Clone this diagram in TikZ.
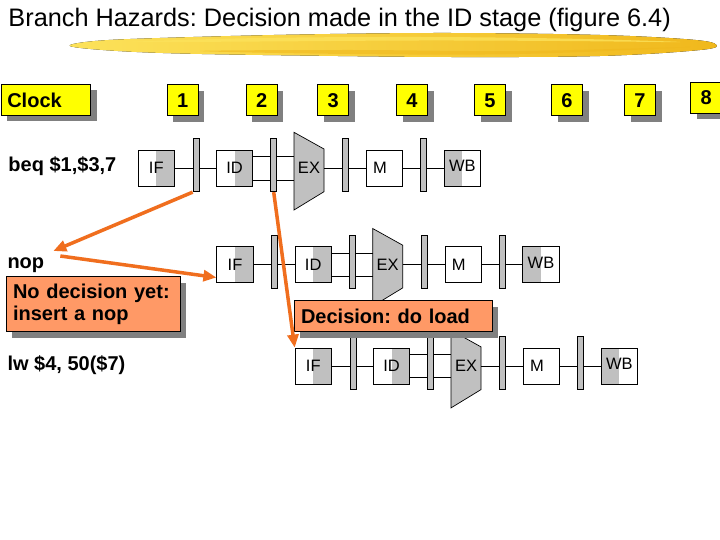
\documentclass[tikz,border=0pt]{standalone}
\usepackage{fontspec}
\setmainfont{Liberation Sans}
\usetikzlibrary{arrows.meta,shadows}
\definecolor{clockyellow}{RGB}{255,255,0}
\definecolor{stagegray}{RGB}{192,192,192}
\definecolor{notefill}{RGB}{255,153,102}
\definecolor{hazardorange}{RGB}{240,110,30}
\definecolor{brushlight}{RGB}{252,226,90}
\definecolor{brushdark}{RGB}{240,184,28}
\definecolor{shadowgray}{RGB}{128,128,128}
\frenchspacing
\begin{document}
\begin{tikzpicture}[x=1pt,y=-1pt,
		lbl/.style={font=\fontsize{20}{24}\selectfont\bfseries,inner sep=0pt,anchor=base west},
		tick/.style={draw,line width=0.8pt,fill=clockyellow,minimum width=31pt,minimum height=31pt,inner sep=0pt,
			font=\fontsize{20}{24}\selectfont\bfseries,general shadow={fill=shadowgray,draw=none,shadow xshift=6pt,shadow yshift=-6pt}},
		note/.style={draw,line width=0.8pt,fill=notefill,inner xsep=7pt,inner ysep=0pt,align=left,
			font=\fontsize{20}{21.5}\selectfont\bfseries,general shadow={fill=shadowgray,draw=none,shadow xshift=6pt,shadow yshift=-6pt}},
		stage/.style={draw,line width=0.7pt,fill=white,minimum width=36.5pt,minimum height=36.5pt,inner sep=0pt,font=\fontsize{16.5}{18}\selectfont},
		grayright/.style={path picture={\fill[stagegray] (path picture bounding box.north) rectangle (path picture bounding box.south east);}},
		grayleft/.style={path picture={\fill[stagegray] (path picture bounding box.north west) rectangle (path picture bounding box.south);}},
		exunit/.style={minimum width=30pt,minimum height=36.5pt,inner sep=0pt,font=\fontsize{16.5}{18}\selectfont},
		latch/.style={draw,line width=0.7pt,fill=stagegray,minimum width=6pt,minimum height=53pt,inner sep=0pt},
		wire/.style={line width=0.7pt},
		jump/.style={draw=hazardorange,line width=3.5pt,-{Triangle[length=13pt,width=11pt]}}]
	\path[use as bounding box,fill=white] (0,0) rectangle (720,540);
	\fill[left color=brushlight,right color=brushdark] plot[smooth cycle,tension=0.6] coordinates
		{(70,46) (95,41) (160,38) (300,34.5) (450,33) (600,35) (690,39.5) (716,44.5)
		 (700,50) (600,56) (450,57) (300,55.5) (180,53.5) (110,50.5)};
	\fill[brushlight,opacity=0.8] plot[smooth cycle,tension=0.6] coordinates
		{(130,42) (260,38) (420,37) (560,38.5) (680,42) (560,41) (420,40.5) (260,41.5)};
	\fill[brushdark,opacity=0.6] plot[smooth cycle,tension=0.6] coordinates
		{(200,51) (350,50) (520,51) (690,47) (520,54) (350,54)};
	\node[anchor=base west,inner sep=0pt,font=\fontsize{25.3}{30}\selectfont] (title) at (8.3,27) {Branch Hazards: Decision made in the ID stage (figure 6.4)};

	\node[tick,text width=77pt,inner xsep=6.3pt,align=left] (clock) at (45.8,100) {Clock};
	\foreach \n/\cx in {1/182.8,2/261.7,3/333.3,4/412,5/490,6/567,7/640}
		\node[tick] (clk\n) at (\cx,100.3) {\n};
	\node[tick] (clk8) at (706.2,97.5) {8};

	\node[lbl] (beq) at (8.3,171.5) {beq \$1,\$3,7};
	\node[lbl] (nop) at (7.3,268) {nop};
	\node[lbl] (lw) at (7.3,370) {lw \$4, 50(\$7)};

	\foreach \r/\xo/\yc in {1/138/168.3,2/216.7/264.5,3/295/366.2}{
		\fill[stagegray,draw=black,line width=0.7pt] (\xo+156,\yc-36) -- (\xo+186,\yc-19.3) -- (\xo+186,\yc+23.4) -- (\xo+156,\yc+41.7) -- cycle;
		\node[stage,grayright] (if\r) at (\xo+18.3,\yc) {IF};
		\node[stage,grayright] (id\r) at (\xo+96.5,\yc) {ID};
		\node[exunit] (ex\r) at (\xo+171,\yc) {EX};
		\node[stage] (m\r) at (\xo+246.5,\yc) {\kern-9pt M};
		\node[stage,grayleft] (wb\r) at (\xo+324.3,\yc) {\raisebox{4pt}{WB}};
		\draw[wire] (if\r) -- (id\r);
		\draw[wire] ([yshift=11.6pt]id\r.east) -- ([yshift=11.6pt]ex\r.west);
		\draw[wire] ([yshift=-11.6pt]id\r.east) -- ([yshift=-11.6pt]ex\r.west);
		\draw[wire] (ex\r) -- (m\r);
		\draw[wire] (m\r) -- (wb\r);
		\foreach \l/\dx in {a/58,b/135.7,c/207.5,d/285.3}
			\node[latch] (l\l\r) at (\xo+\dx,\yc-3) {};
	}

	\node[note,text width=160pt,minimum height=55pt] (nodecision) at (93,304.2) {No decision yet:\\insert a nop};
	\node[note,text width=184.3pt,minimum height=31pt] (doload) at (393.2,316.2) {Decision: do load};

	\draw[jump] (la1.south west) -- ([xshift=9pt,yshift=6pt]nop.north east);
	\draw[jump] ([xshift=16pt,yshift=1pt]nop.north east) -- ([yshift=5.6pt]if2.south west);
	\draw[jump] (lb1.south) -- (if3.north west);
\end{tikzpicture}
\end{document}
